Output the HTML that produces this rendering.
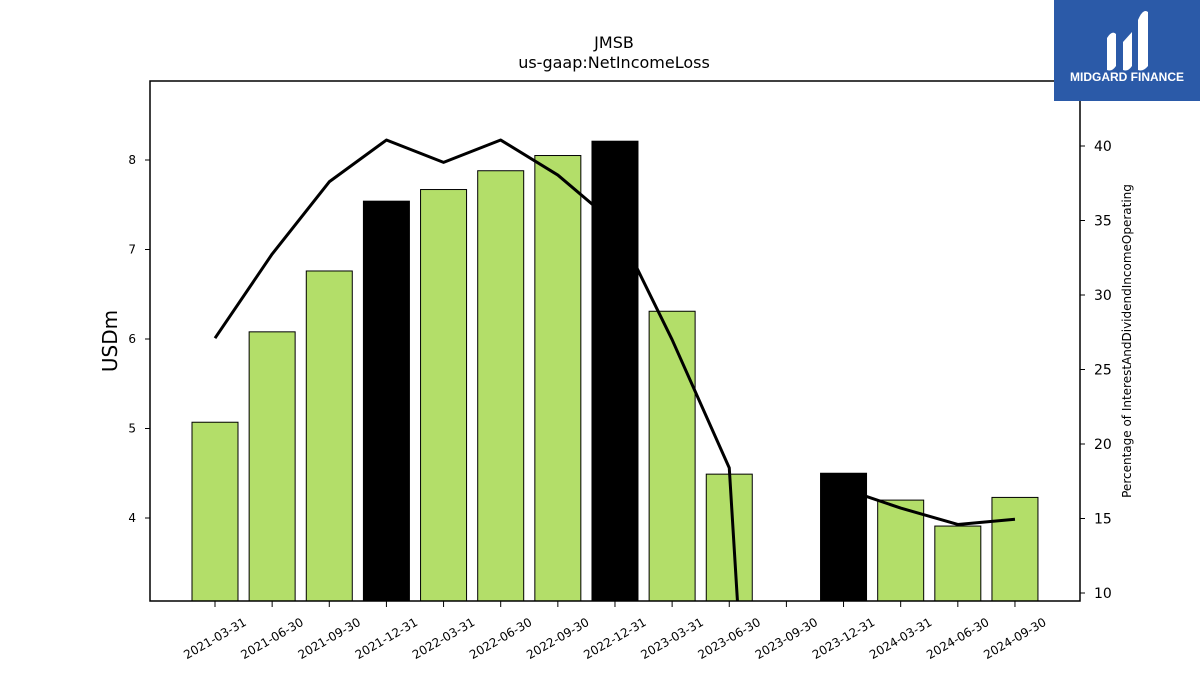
<!DOCTYPE html>
<html><head><meta charset="utf-8"><style>
html,body{margin:0;background:#fff;width:1200px;height:675px;overflow:hidden;font-family:"Liberation Sans","DejaVu Sans",sans-serif}
svg{display:block}
</style></head><body>
<svg id="chart" width="1200" height="675" xmlns="http://www.w3.org/2000/svg" font-family="DejaVu Sans, Liberation Sans, sans-serif">
<text x="614" y="48" text-anchor="middle" font-size="16">JMSB</text>
<text x="614" y="68" text-anchor="middle" font-size="16">us-gaap:NetIncomeLoss</text>
<g id="bars"></g>
<g id="line"></g>
<rect x="150" y="81" width="930" height="520" fill="none" stroke="#000" stroke-width="1.5"/>
<g id="axes"></g>
<text transform="translate(117,341) rotate(-90)" text-anchor="middle" font-size="20">USDm</text>
<text transform="translate(1131,341) rotate(-90)" text-anchor="middle" font-size="12">Percentage of InterestAndDividendIncomeOperating</text>
<g>
<rect x="1054" y="0" width="146" height="101" fill="#2b5aa8"/>
<path d="M1107 70 L1107 38 Q1112 30 1116 34 L1116 66 Q1112 72 1107 70Z" fill="#fff"/>
<path d="M1123 42 L1132 32 L1132 66 Q1128 72 1123 70Z" fill="#fff"/>
<path d="M1138 20 Q1143 8 1148 12 L1148 66 Q1143 72 1138 70Z" fill="#fff"/>
<text x="1127" y="81" text-anchor="middle" font-size="12" font-weight="bold" fill="#fff" font-family="Liberation Sans, sans-serif">MIDGARD FINANCE</text>
</g>
</svg>
<script>
const categories=["2021-03-31","2021-06-30","2021-09-30","2021-12-31","2022-03-31","2022-06-30","2022-09-30","2022-12-31","2023-03-31","2023-06-30","2023-09-30","2023-12-31","2024-03-31","2024-06-30","2024-09-30"];
const barValues=[5.07,6.08,6.76,7.54,7.67,7.88,8.05,8.21,6.31,4.49,null,4.50,4.20,3.91,4.23];
const lineValues=[27.1,32.75,37.6,40.4,38.9,40.4,38.05,34.8,27.0,18.4,-44,17.0,15.7,14.6,14.95];
const leftTicks=[4,5,6,7,8];
const rightTicks=[10,15,20,25,30,35,40];
const NS="http://www.w3.org/2000/svg";
const x=i=>215+i*57.14;
const yL=v=>518-(v-4)*89.5;
const yR=v=>146+(40-v)*14.9;
const bottom=601;
function mk(t,a,p){const e=document.createElementNS(NS,t);for(const k in a)e.setAttribute(k,a[k]);p.appendChild(e);return e;}
const bars=document.getElementById('bars');
barValues.forEach((v,i)=>{
 if(v==null)return;
 const q4=categories[i].endsWith('12-31');
 const r=mk('rect',{x:x(i)-23,y:yL(v),width:46,height:bottom-yL(v),fill:q4?'#000':'#b3de69',stroke:'#000','stroke-width':1},bars);
 
 
});
const lg=document.getElementById('line');
const cp=mk('clipPath',{id:'pc'},lg);mk('rect',{x:150,y:81,width:930,height:520},cp);
const pts=lineValues.map((v,i)=>x(i)+','+yR(v)).join(' ');
const pl=mk('polyline',{points:pts,fill:'none',stroke:'#000','stroke-width':3,'clip-path':'url(#pc)','stroke-linejoin':'round'},lg);


const ax=document.getElementById('axes');
leftTicks.forEach(t=>{
 mk('line',{x1:145,x2:150,y1:yL(t),y2:yL(t),stroke:'#000'},ax);
 const tx=mk('text',{x:136,y:yL(t)+4,'text-anchor':'end','font-size':12},ax);tx.textContent=t;
 
 
});
rightTicks.forEach(t=>{
 mk('line',{x1:1080,x2:1085,y1:yR(t),y2:yR(t),stroke:'#000'},ax);
 const tx=mk('text',{x:1094,y:yR(t)+5,'font-size':14},ax);tx.textContent=t;
 
 
});
categories.forEach((c,i)=>{
 mk('line',{x1:x(i),x2:x(i),y1:601,y2:607,stroke:'#000'},ax);
 const tx=mk('text',{transform:`translate(${x(i)+2},${642}) rotate(-30)`,'text-anchor':'middle','font-size':12},ax);tx.textContent=c;
 
 
});
</script>
</body></html>
